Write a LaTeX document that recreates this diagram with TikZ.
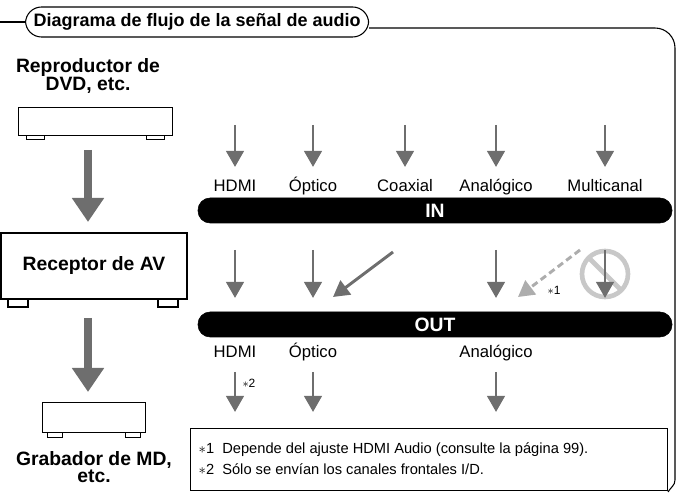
\documentclass[tikz,border=0pt]{standalone}
\usepackage{fontspec}
\setmainfont{Liberation Sans}
\usetikzlibrary{arrows.meta}
\definecolor{arrgray}{RGB}{110,110,110}
\definecolor{nogray}{RGB}{200,200,200}
\begin{document}
\begin{tikzpicture}[x=0.75pt,y=-0.75pt]
\tikzset{font=\fontsize{12.5}{14}\selectfont}
\tikzset{big/.style={font=\bfseries\fontsize{14.5}{16}\selectfont}}
\tikzset{lbl/.style={anchor=base}}
\tikzset{sig/.style={draw=arrgray, line width=2.2pt, -{Triangle[length=12pt,width=13pt]}}}
\tikzset{bigsig/.style={draw=arrgray, line width=6pt, -{Triangle[length=18pt,width=23pt]}}}
\tikzset{bar/.style={fill=black, rounded corners=9pt}}
\tikzset{foot/.style={draw, fill=white, line width=0.6pt}}
\useasboundingbox (0,0) rectangle (679,498);
% frame
\node[draw, line width=0.8pt, rounded corners=12pt, minimum height=30*0.75pt, inner xsep=6pt, font=\bfseries\fontsize{13.5}{15}\selectfont, anchor=west] (title) at (25,22) {Diagrama de flujo de la señal de audio};
\draw[line width=0.8pt] (0,22) -- (title.west);
\draw[line width=0.8pt] ([yshift=-4.5pt]title.east) -- (655,28) to[out=0,in=90] (675,48) -- (675,480) to[out=-90,in=60] (668,492);
% devices
\node[big, align=center] (dvdlbl) at (88,76) {Reproductor de\\[-3pt]DVD, etc.};
\draw[line width=0.7pt] (18,107) rectangle (172,135);
\draw[foot] (26,135) rectangle (44,139); \draw[foot] (146,135) rectangle (164,139);
\coordinate (dvd) at (88,150);
\coordinate (recv) at (88,222);
\draw[bigsig] (dvd) -- (recv);
\node[draw, line width=1.6pt, minimum width=186*0.75pt, minimum height=66*0.75pt, big] (rec) at (94,266) {Receptor de AV};
\draw[line width=1.4pt] (8,299) rectangle (28,307); \draw[line width=1.4pt] (158,299) rectangle (178,307);
\coordinate (rec2) at (88,318);
\coordinate (mdin) at (88,392);
\draw[bigsig] (rec2) -- (mdin);
\draw[line width=0.7pt] (42,402) rectangle (145,432);
\draw[foot] (47,432) rectangle (62,437); \draw[foot] (125,432) rectangle (140,437);
\node[big, align=center] (mdlbl) at (94,467) {Grabador de MD,\\[-3pt]etc.};
% inputs
\foreach \x/\t in {235/HDMI,313/Óptico,405/Coaxial,496/Analógico,605/Multicanal}{
  \coordinate (top\x) at (\x,125);
  \coordinate (tip\x) at (\x,167);
  \node[lbl] (in\x) at (\x,192) {\t};
  \draw[sig] (top\x) -- (tip\x);
}
\draw[bar] (198,198) rectangle (672,223);
\node[text=white, big] (IN) at (435,211) {IN};
\draw[bar] (198,312) rectangle (672,337);
\node[text=white, big] (OUT) at (435,325) {OUT};
% inside the receiver
\draw[nogray, line width=3.5pt] (605,274) circle (23);
\draw[nogray, line width=3.5pt] (589,258) -- (621,290);
\foreach \x in {235,313,496,605}{
  \coordinate (a\x) at (\x,250);
  \coordinate (b\x) at (\x,298);
  \draw[sig] (a\x) -- (b\x);
}
\coordinate (coax) at (393,252);
\coordinate (coaxend) at (333,297);
\draw[sig] (coax) -- (coaxend);
\coordinate (multi) at (580,250);
\coordinate (multiend) at (518,297);
\draw[sig, dashed, dash pattern=on 5pt off 3pt, draw=nogray!70!arrgray] (multi) -- (multiend);
\node[font=\fontsize{9}{10}\selectfont] (n1) at (554,290) {$*$1};
% outputs
\foreach \x/\t in {235/HDMI,313/Óptico,496/Analógico}{
  \node[lbl] (out\x) at (\x,358) {\t};
  \coordinate (st\x) at (\x,372);
  \coordinate (end\x) at (\x,412);
  \draw[sig] (st\x) -- (end\x);
}
\node[font=\fontsize{9}{10}\selectfont] (n2) at (249,383) {$*$2};
% notes
\node[draw, line width=0.6pt, minimum width=477*0.75pt, minimum height=62*0.75pt, anchor=north west, inner sep=0pt] (notes) at (190,428) {};
\node[anchor=west, align=left, font=\fontsize{11}{16}\selectfont] (notetxt) at (194,459) {$*$1\ \ Depende del ajuste HDMI Audio (consulte la página 99).\\$*$2\ \ Sólo se envían los canales frontales I/D.};
\end{tikzpicture}
\end{document}
